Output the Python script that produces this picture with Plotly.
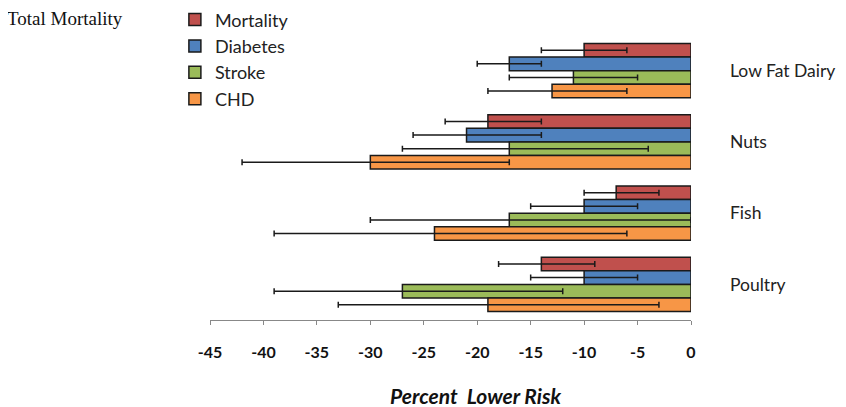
import plotly.graph_objects as go

categories = ["Low Fat Dairy", "Nuts", "Fish", "Poultry"]
series = ["Mortality", "Diabetes", "Stroke", "CHD"]
colors = ["#C0504D", "#4F81BD", "#9BBB59", "#F79646"]

# percent change in risk, with lower / upper confidence limits
values = {
    "Mortality": [-10, -19, -7, -14],
    "Diabetes": [-17, -21, -10, -10],
    "Stroke": [-11, -17, -17, -27],
    "CHD": [-13, -30, -24, -19],
}
lower = {
    "Mortality": [-14, -23, -10, -18],
    "Diabetes": [-20, -26, -15, -15],
    "Stroke": [-17, -27, -30, -39],
    "CHD": [-19, -42, -39, -33],
}
upper = {
    "Mortality": [-6, -14, -3, -9],
    "Diabetes": [-14, -14, -5, -5],
    "Stroke": [-5, -4, 0, -12],
    "CHD": [-6, -17, -6, -3],
}
x_ticks = [-45, -40, -35, -30, -25, -20, -15, -10, -5, 0]

font = "Lato, Open Sans, sans-serif"

fig = go.Figure()
for name, color in zip(series, colors):
    v = values[name]
    fig.add_trace(go.Bar(
        y=categories, x=v, name=name, orientation="h",
        legendgroup=name,
        marker=dict(color=color, line=dict(color="#1a1a1a", width=1.5)),
        error_x=dict(
            type="data", symmetric=False,
            array=[u - a for u, a in zip(upper[name], v)],
            arrayminus=[a - l for a, l in zip(v, lower[name])],
            color="#1a1a1a", thickness=1.5, width=3,
        ),
    ))

fig.update_layout(
    width=846, height=407,
    margin=dict(l=202, r=163, t=27, b=95, autoexpand=False),
    plot_bgcolor="white", paper_bgcolor="white",
    barmode="group", bargap=0.24, bargroupgap=0,
    font=dict(family=font, color="#222"),
    legend=dict(
        x=-0.073, y=1.118, xanchor="left", yanchor="top",
        traceorder="grouped", tracegroupgap=0, itemwidth=30,
        font=dict(size=18, family=font, color="#222"),
        bgcolor="rgba(0,0,0,0)",
    ),
    xaxis=dict(
        range=[-45, 0], tickvals=x_ticks, ticktext=[str(t) for t in x_ticks],
        showgrid=False, zeroline=False,
        showline=True, linecolor="#888", linewidth=1,
        ticks="outside", ticklen=4, tickcolor="#888", ticklabelstandoff=14,
        tickfont=dict(size=16, family=font, color="#111", weight="bold"),
        automargin=False,
    ),
    yaxis=dict(
        autorange="reversed", side="right", showgrid=False, zeroline=False,
        showline=False, ticks="", ticklabelstandoff=38, automargin=False,
        tickfont=dict(size=17.5, family=font, color="#222"),
    ),
)

# axis title sits a little right of the plot centre in the original
fig.add_annotation(
    text="<b><i>Percent  Lower Risk</i></b>", xref="paper", yref="paper",
    x=0.553, y=-0.265, xanchor="center", yanchor="middle", showarrow=False,
    font=dict(size=21, family=font, color="#111"),
)

fig.add_annotation(
    text="Total Mortality", xref="paper", yref="paper",
    x=-205 / 481, y=1.10, xanchor="left", yanchor="top", showarrow=False,
    font=dict(family="Liberation Serif, Times New Roman, serif", size=19, color="#111"),
)

fig.write_html("out.html")
